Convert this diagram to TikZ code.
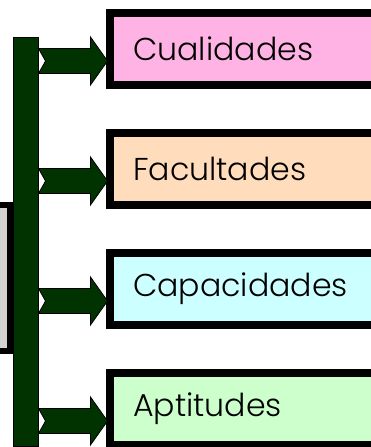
\documentclass[tikz,border=0pt]{standalone}
\usepackage{fontspec}
\setmainfont{Poppins}[UprightFont={* Light}]
\usetikzlibrary{calc,positioning}

\definecolor{stemgreen}{HTML}{003300}
\definecolor{pinkfill}{HTML}{FFB2E4}
\definecolor{peachfill}{HTML}{FFDCBC}
\definecolor{cyanfill}{HTML}{CCFFFF}
\definecolor{greenfill}{HTML}{CCFFCC}
\definecolor{rootgray}{HTML}{D2D2D2}

\tikzset{
	catbox/.style={anchor=west, minimum height=72pt, minimum width=296pt,
		text width=250pt, align=left, inner xsep=23pt, inner ysep=0pt,
		font=\fontsize{31.6}{34}\selectfont},
	boxrim/.style={draw=black, line width=8pt, line join=miter},
	blockarrow/.style={fill=stemgreen, draw=black, line width=0.8pt, line join=miter},
}

\begin{document}
\begin{tikzpicture}[x=1pt, y=-1pt]
	
		\useasboundingbox (0,0) rectangle (370,447);
		
		\pgfmathsetmacro{\boxpitch}{120}
		\pgfmathsetmacro{\arrowdrop}{12}
		
		% grey root box, mostly off the page
		\node[fill=rootgray, minimum width=30pt, minimum height=146pt, inner sep=0pt] (root) at (-5, 278) {};
		\draw[boxrim, line width=6pt] (root.north west) -- (root.north east) -- (root.south east) -- (root.south west);
		
		% green stem
		\node[draw=black, line width=1pt, fill=stemgreen, minimum width=25pt, minimum height=409pt, inner sep=0pt] (stem) at (25.5, 241.5) {};
		
		% draw the 4 boxes, open on the right
		\foreach \name/\txt/\col [count=\i] in {cual/Cualidades/pinkfill, facu/Facultades/peachfill, capa/Capacidades/cyanfill, apti/Aptitudes/greenfill}
		{
			\node[catbox, fill=\col] (\name) at (110, {49 + (\i - 1) * \boxpitch}) {\txt};
			\draw[boxrim] (\name.north east) -- (\name.north west) -- (\name.south west) -- (\name.south east);
		}
		
		% draw the arrows
		\foreach \name in {cual, facu, capa, apti}
		{
			\coordinate (s) at ($(stem.east |- \name.west) + (0, \arrowdrop)$);
			\begin{scope}[shift={(s)}]
				\filldraw[blockarrow] (0, -12.5) -- (52, -12.5) -- (52, -24) -- (69, 0) -- (52, 24) -- (52, 12.5) -- (0, 12.5) -- (7, 0) -- cycle;
			\end{scope}
		}
		
	\end{tikzpicture}
\end{document}
